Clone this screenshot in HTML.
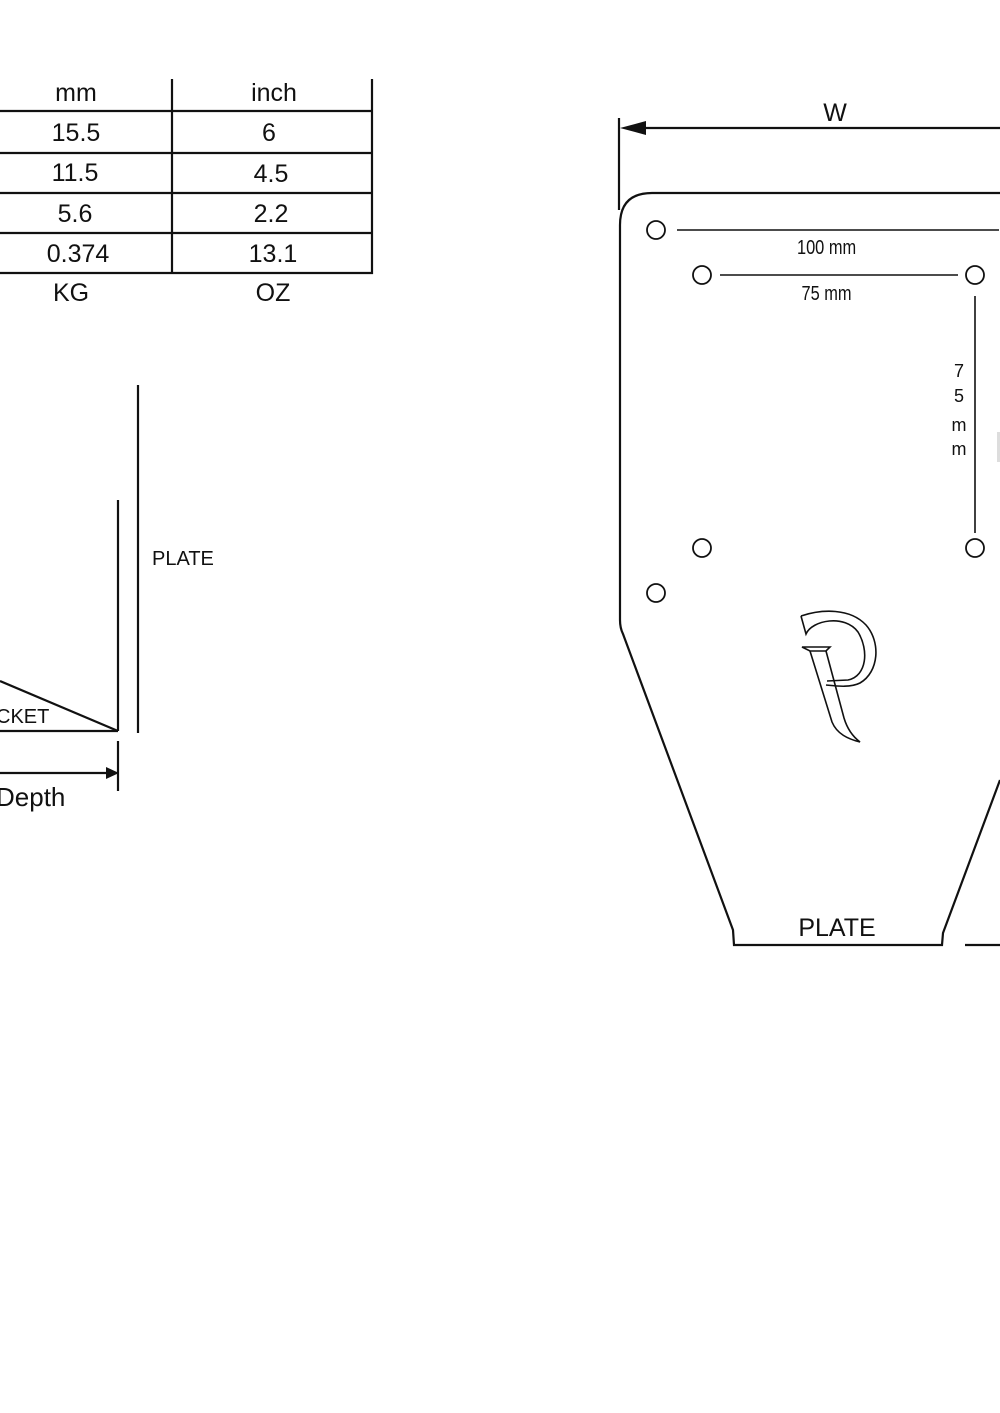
<!DOCTYPE html>
<html><head><meta charset="utf-8"><style>
html,body{margin:0;padding:0;background:#fff;}
svg{display:block;}
text{font-family:"Liberation Sans",sans-serif;fill:#111;}
</style></head><body>
<svg width="1000" height="1413" viewBox="0 0 1000 1413" xmlns="http://www.w3.org/2000/svg">
<g stroke="#111" stroke-width="2.2" fill="none">
<line x1="172" y1="79" x2="172" y2="274"/>
<line x1="372" y1="79" x2="372" y2="274"/>
<line x1="0" y1="111" x2="373" y2="111"/>
<line x1="0" y1="153" x2="373" y2="153"/>
<line x1="0" y1="193" x2="373" y2="193"/>
<line x1="0" y1="233" x2="373" y2="233"/>
<line x1="0" y1="273" x2="373" y2="273"/>
<line x1="138" y1="385" x2="138" y2="733"/>
<line x1="118" y1="500" x2="118" y2="731"/>
<line x1="0" y1="731" x2="118" y2="731"/>
<line x1="0" y1="681" x2="118" y2="731"/>
<line x1="118" y1="741" x2="118" y2="791"/>
<line x1="0" y1="773" x2="108" y2="773"/>
<line x1="619" y1="118" x2="619" y2="210"/>
<line x1="640" y1="128" x2="1000" y2="128"/>
<path d="M1000,193 L652,193 Q620,193 620,225 L620,620 Q620,628 623,634 L733,930 L734,945 L942,945 L943,933 L1000,780"/>
<line x1="965" y1="945" x2="1000" y2="945"/>
<line x1="677" y1="230" x2="999" y2="230" stroke-width="1.6"/>
<line x1="720" y1="275" x2="958" y2="275" stroke-width="1.6"/>
<line x1="975" y1="296" x2="975" y2="533" stroke-width="1.6"/>
<g stroke-width="1.8">
<circle cx="656" cy="230" r="9"/>
<circle cx="702" cy="275" r="9"/>
<circle cx="975" cy="275" r="9"/>
<circle cx="702" cy="548" r="9"/>
<circle cx="975" cy="548" r="9"/>
<circle cx="656" cy="593" r="9"/>
</g>
<g stroke-width="1.6">
<path d="M801,616 C822,609 850,608 866,625 C881,642 879,672 860,683 C850,688 836,686 826,685"/>
<path d="M801,616 L806,634 C812,620 845,614 858,632 C869,650 867,676 848,680 L827,681"/>
<path d="M802,647 L830,647 L826,651 L810,651 Z"/>
<path d="M810,651 L832,722 C837,734 848,739 860,742 C852,736 847,728 844,718 L826,651"/>
</g>
</g>
<polygon points="620,128 646,121 646,135" fill="#111"/>
<polygon points="119,773 106,767 106,779" fill="#111"/>
<rect x="997" y="432" width="3" height="30" fill="#ddd"/>
<g font-size="25" text-anchor="middle">
<text x="76" y="101">mm</text><text x="274" y="101">inch</text>
<text x="76" y="141">15.5</text><text x="269" y="141">6</text>
<text x="75" y="181">11.5</text><text x="271" y="182">4.5</text>
<text x="75" y="222">5.6</text><text x="271" y="222">2.2</text>
<text x="78" y="262">0.374</text><text x="273" y="262">13.1</text>
<text x="71" y="301">KG</text><text x="273" y="301">OZ</text>
</g>
<text x="-4" y="723" font-size="20">CKET</text>
<text x="152" y="565" font-size="20">PLATE</text>
<text x="-4" y="806" font-size="26">Depth</text>
<text x="835" y="121" font-size="25" text-anchor="middle">W</text>
<text x="837" y="936" font-size="25" text-anchor="middle">PLATE</text>
<g font-size="20" text-anchor="middle" transform="scale(0.82,1)">
<text x="1008" y="254">100 mm</text>
<text x="1008" y="300">75 mm</text>
</g>
<g font-size="18" text-anchor="middle">
<text x="959" y="377">7</text>
<text x="959" y="402">5</text>
<text x="959" y="431">m</text>
<text x="959" y="455">m</text>
</g>
</svg>
</body></html>
